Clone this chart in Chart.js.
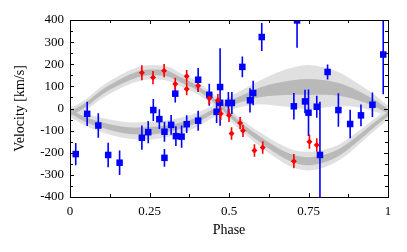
<!DOCTYPE html>
<html>
<head>
<meta charset="utf-8">
<script src="https://cdn.jsdelivr.net/npm/chart.js@4"></script>
<style>
  html, body { margin: 0; padding: 0; background: #fff; }
  #wrap { width: 407px; height: 252px; }
</style>
</head>
<body>
<div id="wrap"><canvas id="grafico" width="407" height="252"></canvas></div>
<script>
// model grid (phase) and fitted curves
const gridPhase = [0, 0.05, 0.1, 0.15, 0.2, 0.25, 0.3, 0.35, 0.4, 0.45, 0.5, 0.55, 0.6, 0.65, 0.7, 0.75, 0.8, 0.85, 0.9, 0.95, 1];
const modelRed  = [-25, 17, 73, 115, 148, 163, 160, 128, 93, 40, -25, -89, -142, -190, -226, -238, -226, -195, -142, -82, -25];
const redSig1   = [10, 10, 11, 12, 13, 13, 13, 12, 11, 10, 10, 11, 13, 15, 17, 18, 17, 15, 13, 11, 10];
const redSig2   = [25, 25, 28, 30, 32, 32, 32, 30, 28, 25, 25, 28, 32, 36, 40, 42, 40, 36, 32, 28, 25];
const modelBlue = [-12, -51, -74, -92, -101, -101, -92, -77, -51, -14, 22, 50, 74, 87, 95, 97, 95, 85, 62, 30, -12];
const blueSig1  = [10, 11, 12, 14, 15, 16, 15, 14, 12, 11, 12, 16, 22, 28, 33, 36, 33, 28, 22, 16, 10];
const blueSig2  = [25, 28, 32, 36, 38, 40, 38, 36, 32, 28, 30, 40, 55, 75, 90, 100, 90, 75, 55, 40, 25];

// red measurements
const phRed = [0.226, 0.261, 0.296, 0.331, 0.367, 0.367, 0.403, 0.438, 0.465, 0.474, 0.500, 0.508, 0.535, 0.544, 0.580, 0.606, 0.704, 0.753, 0.776];
const vRed  = [162, 140, 171, 111, 146, 88, 103, 46, 37, -24, -31, -113, -66, -101, -190, -176, -238, -150, -165];
const eRed  = [34, 30, 30, 28, 28, 28, 28, 28, 28, 28, 30, 28, 28, 28, 28, 28, 32, 32, 30];

// blue measurements
const phBlue = [0.018, 0.054, 0.089, 0.120, 0.156, 0.226, 0.246, 0.262, 0.281, 0.297, 0.297, 0.318, 0.331, 0.333, 0.351, 0.367, 0.403, 0.403, 0.438, 0.461, 0.472, 0.472, 0.498, 0.509, 0.542, 0.566, 0.576, 0.603, 0.704, 0.714, 0.739, 0.750, 0.776, 0.786, 0.810, 0.844, 0.881, 0.915, 0.951, 0.985];
const vBlue  = [-206, -24, -77, -210, -245, -132, -107, -7, -48, -105, -223, -74, 67, -125, -127, -71, -55, 130, 62, -15, 97, 26, 25, 25, 188, 37, 70, 323, 10, 398, 32, -19, 8, -210, 165, -7, -70, -31, 17, 244];
const eBlue  = [50, 55, 55, 55, 55, 55, 50, 50, 45, 45, 40, 45, 40, 45, 50, 40, 45, 53, 50, 50, 175, 50, 50, 50, 47, 55, 55, 63, 60, 123, 53, 105, 50, 240, 34, 76, 64, 49, 55, 180];

// axis ticks
const xTicks = [0, 0.125, 0.25, 0.375, 0.5, 0.625, 0.75, 0.875, 1];
const yTicks = [-400, -350, -300, -250, -200, -150, -100, -50, 0, 50, 100, 150, 200, 250, 300, 350, 400];

const SERIF = '"Liberation Serif", "DejaVu Serif", serif';
const LIGHT = 'rgb(224,224,224)';
const DARK = 'rgb(185,185,185)';

const curve = (vals, off, sign) => gridPhase.map((p, i) => ({ x: p, y: vals[i] + sign * (off ? off[i] : 0) }));
const pts = (ph, v) => ph.map((p, i) => ({ x: p, y: v[i] }));
function errData(ph, v, e) {
    const d = [];
    ph.forEach((p, i) => {
        d.push({ x: p, y: v[i] - e[i] }, { x: p, y: v[i] + e[i] }, { x: p, y: null });
    });
    return d;
}

function band(vals, sig, sign, color, order, fill) {
    return {
        data: curve(vals, sig, sign), showLine: true, pointRadius: 0, borderWidth: 0,
        borderColor: 'rgba(0,0,0,0)', backgroundColor: color, fill: fill,
        cubicInterpolationMode: 'monotone', order: order
    };
}

// ticks pointing inward on all four sides + frame
const frameTicks = {
    id: 'frameTicks',
    afterDraw(chart) {
        const { ctx, chartArea: a, scales: { x, y } } = chart;
        ctx.save();
        ctx.strokeStyle = '#000';
        ctx.lineWidth = 1;
        ctx.beginPath();
        xTicks.forEach((v, i) => {
            const px = Math.round(x.getPixelForValue(v)) + 0.5;
            const len = i % 2 === 0 ? 4 : 3;
            ctx.moveTo(px, a.bottom); ctx.lineTo(px, a.bottom - len);
            ctx.moveTo(px, a.top); ctx.lineTo(px, a.top + len);
        });
        yTicks.forEach((v, i) => {
            const py = Math.round(y.getPixelForValue(v)) + 0.5;
            const len = i % 2 === 0 ? 4 : 3;
            ctx.moveTo(a.left, py); ctx.lineTo(a.left + len, py);
            ctx.moveTo(a.right, py); ctx.lineTo(a.right - len, py);
        });
        ctx.stroke();
        ctx.strokeRect(Math.round(a.left) + 0.5, Math.round(a.top) + 0.5,
            Math.round(a.right - a.left), Math.round(a.bottom - a.top));
        ctx.restore();
    }
};

const ctx = document.getElementById('grafico');

new Chart(ctx, {
    type: 'scatter',
    data: {
        datasets: [
            // markers
            { data: pts(phRed, vRed), pointStyle: 'rectRot', pointRadius: 3, backgroundColor: 'rgb(255,0,0)', borderColor: 'rgb(255,0,0)', borderWidth: 0, order: 1 },
            { data: pts(phBlue, vBlue), pointStyle: 'rect', pointRadius: 4.6, backgroundColor: 'rgb(0,0,255)', borderColor: 'rgb(0,0,255)', borderWidth: 0, order: 1 },
            // error bars
            { data: errData(phRed, vRed, eRed), showLine: true, spanGaps: false, pointRadius: 0, borderColor: 'rgb(255,0,0)', borderWidth: 1.6, order: 2 },
            { data: errData(phBlue, vBlue, eBlue), showLine: true, spanGaps: false, pointRadius: 0, borderColor: 'rgb(0,0,255)', borderWidth: 1.6, order: 2 },
            // model curves
            { data: curve(modelRed), showLine: true, pointRadius: 0, borderColor: 'rgb(45,45,45)', borderWidth: 1.5, cubicInterpolationMode: 'monotone', order: 5 },
            { data: curve(modelBlue), showLine: true, pointRadius: 0, borderColor: 'rgb(45,45,45)', borderWidth: 1.5, cubicInterpolationMode: 'monotone', order: 5 },
            // 1 sigma bands
            band(modelRed, redSig1, 1, DARK, 8, '+1'),
            band(modelRed, redSig1, -1, DARK, 8, false),
            band(modelBlue, blueSig1, 1, DARK, 8, '+1'),
            band(modelBlue, blueSig1, -1, DARK, 8, false),
            // 2 sigma bands
            band(modelRed, redSig2, 1, LIGHT, 10, '+1'),
            band(modelRed, redSig2, -1, LIGHT, 10, false),
            band(modelBlue, blueSig2, 1, LIGHT, 10, '+1'),
            band(modelBlue, blueSig2, -1, LIGHT, 10, false)
        ]
    },
    options: {
        responsive: false,
        animation: false,
        layout: { padding: { top: 20, right: 19, left: 0, bottom: 0 } },
        plugins: { legend: { display: false }, tooltip: { enabled: false } },
        scales: {
            x: {
                type: 'linear', min: 0, max: 1,
                afterFit: (s) => { s.height = 55; },
                grid: { display: false, drawTicks: false },
                border: { display: false },
                ticks: {
                    stepSize: 0.25, padding: 7, color: '#000', font: { family: SERIF, size: 13 }, maxRotation: 0,
                    callback: (v) => String(Math.round(v * 100) / 100)
                },
                title: { display: true, text: 'Phase', color: '#000', font: { family: SERIF, size: 14 }, padding: { top: 0, bottom: 13 } }
            },
            y: {
                type: 'linear', min: -400, max: 400,
                afterFit: (s) => { s.width = 70; },
                grid: { display: false, drawTicks: false },
                border: { display: false },
                ticks: { stepSize: 100, padding: 6, color: '#000', font: { family: SERIF, size: 13 } },
                title: { display: true, text: 'Velocity [km/s]', color: '#000', font: { family: SERIF, size: 14 }, padding: { top: 12, bottom: 0 } }
            }
        }
    },
    plugins: [frameTicks]
});
</script>
</body>
</html>
